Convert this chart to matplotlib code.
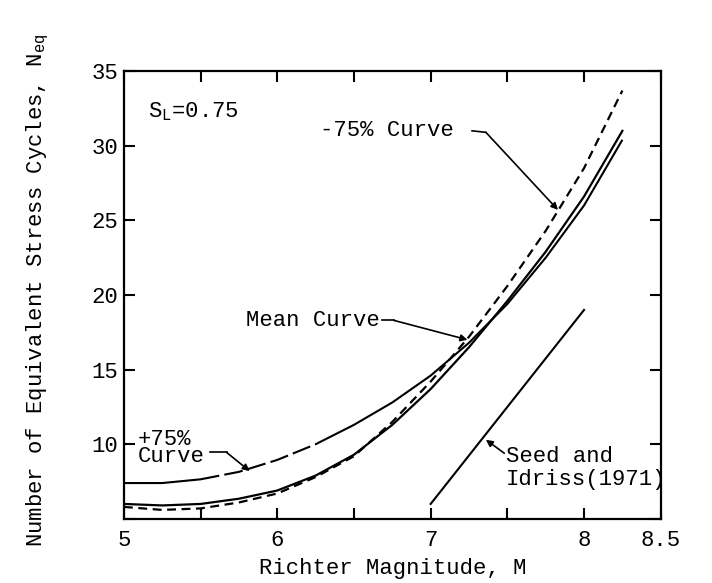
import numpy as np
import matplotlib
matplotlib.use("Agg")
import matplotlib.pyplot as plt

plt.rcParams['font.family'] = ['Liberation Mono', 'DejaVu Sans Mono']
plt.rcParams['font.size'] = 16

# values
M = [5.0, 5.25, 5.5, 5.75, 6.0, 6.25, 6.5, 6.75, 7.0, 7.25, 7.5, 7.75, 8.0, 8.25]
plus75 = [7.4, 7.4, 7.65, 8.15, 8.95, 10.0, 11.3, 12.8, 14.6, 16.8, 19.4, 22.5, 26.0, 30.4]
mean = [6.0, 5.9, 6.0, 6.35, 6.9, 7.9, 9.3, 11.3, 13.7, 16.5, 19.6, 22.9, 26.6, 31.0]
minus75 = [5.8, 5.6, 5.7, 6.1, 6.7, 7.8, 9.2, 11.5, 14.2, 17.2, 20.6, 24.3, 28.5, 33.7]
seed_M = [7.0, 8.0]
seed_N = [6.0, 19.0]

xticks = [5, 5.5, 6, 6.5, 7, 7.5, 8, 8.5]
xticklabels = ['5', '', '6', '', '7', '', '8', '8.5']
yticks = [5, 10, 15, 20, 25, 30, 35]
yticklabels = ['', '10', '15', '20', '25', '30', '35']

fig = plt.figure(figsize=(7.12, 5.83), dpi=100)
ax = fig.add_axes([0.174, 0.110, 0.754, 0.768])

ax.plot(M, mean, '-k', lw=1.6)
ax.plot(M, minus75, color='k', lw=1.6, dashes=(4, 2.5))
# +75% curve: solid start, a few long dashes, then solid
ax.plot(M, plus75, color='k', lw=1.5,
        dashes=(46, 2.5, 9, 2.5, 9, 2.5, 9, 2.5, 9, 2.5, 2000, 1))
ax.plot(seed_M, seed_N, '-k', lw=1.5)

ax.set_xlim(5, 8.5)
ax.set_ylim(5, 35)
ax.set_xticks(xticks)
ax.set_xticklabels(xticklabels)
ax.set_yticks(yticks)
ax.set_yticklabels(yticklabels)
ax.tick_params(direction='in', length=8, width=1.5, top=True, right=True)
ax.tick_params(axis='x', pad=8)
ax.tick_params(axis='y', pad=4)
for s in ax.spines.values():
    s.set_linewidth(1.6)

ax.set_xlabel('Richter Magnitude, M', labelpad=5)
ax.set_ylabel('Number of Equivalent Stress Cycles, N$_{\\mathregular{eq}}$')
ax.yaxis.set_label_coords(-0.135, 0.51)

ax.text(5.16, 32.3, 'S$_{\\mathregular{L}}$=0.75', va='center', ha='left')

arr = dict(arrowstyle='-|>', color='k', lw=1.2, mutation_scale=10, shrinkA=0, shrinkB=0)

# -75% curve label
ax.text(7.15, 31.0, '-75% Curve', va='center', ha='right')
ax.plot([7.27, 7.36], [31.0, 30.9], '-k', lw=1.2)
ax.annotate('', xy=(7.83, 25.7), xytext=(7.36, 30.9), arrowprops=arr)

# mean curve label
ax.text(6.67, 18.3, 'Mean Curve', va='center', ha='right')
ax.plot([6.68, 6.76], [18.3, 18.3], '-k', lw=1.2)
ax.annotate('', xy=(7.24, 17.0), xytext=(6.76, 18.3), arrowprops=arr)

# +75% curve label
ax.text(5.09, 9.75, '+75%\nCurve', va='center', ha='left', linespacing=0.75)
ax.plot([5.56, 5.67], [9.45, 9.45], '-k', lw=1.2)
ax.annotate('', xy=(5.82, 8.2), xytext=(5.67, 9.45), arrowprops=arr)

# Seed and Idriss label
ax.text(7.49, 8.4, 'Seed and\nIdriss(1971)', va='center', ha='left', linespacing=1.15)
ax.annotate('', xy=(7.36, 10.3), xytext=(7.48, 9.4), arrowprops=arr)

fig.savefig('out.png', dpi=100)
